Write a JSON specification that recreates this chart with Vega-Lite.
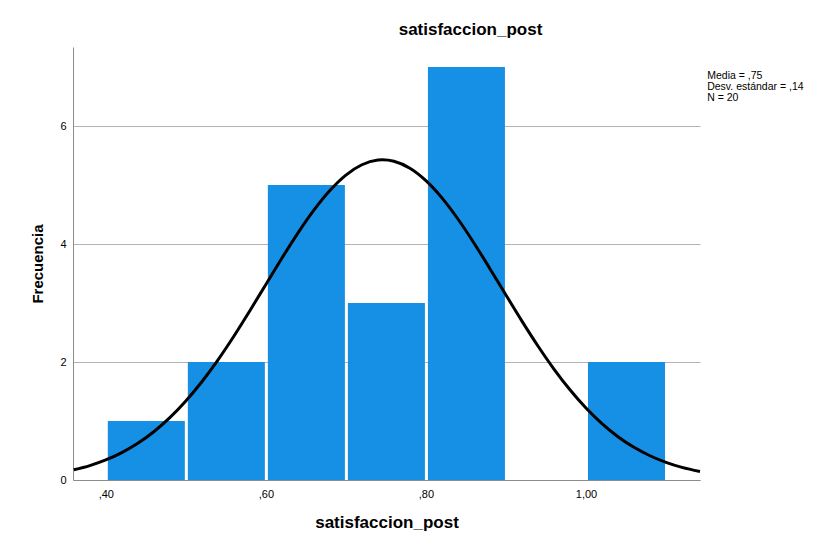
{
  "$schema": "https://vega.github.io/schema/vega-lite/v6.json",
  "width": 627,
  "height": 433,
  "autosize": {"type": "none"},
  "padding": {"left": 73, "top": 47, "right": 117, "bottom": 66},
  "background": "white",
  "title": {"text": "satisfaccion_post", "font": "Liberation Sans", "fontSize": 17, "fontWeight": "bold", "color": "#000000", "offset": 8, "dx": 84},
  "config": {"view": {"stroke": null}, "font": "Liberation Sans"},
  "datasets": {
    "bins": [
      {"desde": 0.4, "hasta": 0.5, "frecuencia": 1},
      {"desde": 0.5, "hasta": 0.6, "frecuencia": 2},
      {"desde": 0.6, "hasta": 0.7, "frecuencia": 5},
      {"desde": 0.7, "hasta": 0.8, "frecuencia": 3},
      {"desde": 0.8, "hasta": 0.9, "frecuencia": 7},
      {"desde": 0.9, "hasta": 1.0, "frecuencia": 0},
      {"desde": 1.0, "hasta": 1.1, "frecuencia": 2}
    ],
    "curva": [
      {"x": 0.36, "y": 0.1726}, {"x": 0.38, "y": 0.2445}, {"x": 0.40, "y": 0.3401},
      {"x": 0.42, "y": 0.4644}, {"x": 0.44, "y": 0.6221}, {"x": 0.46, "y": 0.8176},
      {"x": 0.48, "y": 1.0563}, {"x": 0.50, "y": 1.3385}, {"x": 0.52, "y": 1.6648},
      {"x": 0.54, "y": 2.0333}, {"x": 0.56, "y": 2.4377}, {"x": 0.58, "y": 2.8693},
      {"x": 0.60, "y": 3.3149}, {"x": 0.62, "y": 3.7594}, {"x": 0.64, "y": 4.1855},
      {"x": 0.66, "y": 4.5742}, {"x": 0.68, "y": 4.9075}, {"x": 0.70, "y": 5.1686},
      {"x": 0.72, "y": 5.3439}, {"x": 0.74, "y": 5.4235}, {"x": 0.746, "y": 5.428},
      {"x": 0.76, "y": 5.4034}, {"x": 0.78, "y": 5.2847}, {"x": 0.80, "y": 5.0741},
      {"x": 0.82, "y": 4.7821}, {"x": 0.84, "y": 4.4244}, {"x": 0.86, "y": 4.0184},
      {"x": 0.88, "y": 3.5825}, {"x": 0.90, "y": 3.1358}, {"x": 0.92, "y": 2.6939},
      {"x": 0.94, "y": 2.2722}, {"x": 0.96, "y": 1.8814}, {"x": 0.98, "y": 1.5291},
      {"x": 1.00, "y": 1.2202}, {"x": 1.02, "y": 0.9559}, {"x": 1.04, "y": 0.7345},
      {"x": 1.06, "y": 0.5542}, {"x": 1.08, "y": 0.4109}, {"x": 1.10, "y": 0.2988},
      {"x": 1.12, "y": 0.2133}, {"x": 1.1425, "y": 0.1440}
    ]
  },
  "layer": [
    {
      "data": {"name": "bins"},
      "mark": {"type": "bar", "color": "#1690E5", "binSpacing": 3},
      "encoding": {
        "x": {
          "field": "desde", "type": "quantitative", "bin": {"binned": true, "step": 0.1},
          "scale": {"domain": [0.359, 1.1425], "nice": false, "zero": false},
          "axis": {
            "title": "satisfaccion_post", "titleFontSize": 17, "titleFontWeight": "bold", "titleColor": "#000000",
            "titlePadding": 15, "values": [0.4, 0.6, 0.8, 1.0],
            "labelExpr": "datum.value < 1 ? replace(format(datum.value, '.2f'), '0.', ',') : replace(format(datum.value, '.2f'), '.', ',')",
            "ticks": false, "labelPadding": 8, "labelFontSize": 11, "labelColor": "#000000",
            "domainColor": "#8c8c8c", "grid": false, "labelFlush": false
          }
        },
        "x2": {"field": "hasta"},
        "y": {
          "field": "frecuencia", "type": "quantitative",
          "scale": {"domain": [0, 7.34], "nice": false},
          "axis": {
            "title": "Frecuencia", "titleFontSize": 15, "titleFontWeight": "bold", "titleColor": "#000000",
            "titlePadding": 14, "values": [0, 2, 4, 6], "format": "d", "ticks": false, "labelPadding": 7,
            "labelFontSize": 11, "labelColor": "#000000", "gridColor": "#b4b4b4", "domainColor": "#8c8c8c"
          }
        }
      }
    },
    {
      "data": {"name": "curva"},
      "mark": {"type": "line", "color": "#000000", "strokeWidth": 3, "interpolate": "monotone"},
      "encoding": {
        "x": {"field": "x", "type": "quantitative"},
        "y": {"field": "y", "type": "quantitative"}
      }
    },
    {
      "data": {"values": [{"stat": "resumen"}]},
      "mark": {"type": "text", "align": "left", "baseline": "top", "fontSize": 10.5, "lineHeight": 11, "color": "#000000", "font": "Liberation Sans"},
      "encoding": {
        "x": {"datum": 1.1515, "type": "quantitative"},
        "y": {"datum": 6.93, "type": "quantitative"},
        "text": {"value": ["Media = ,75", "Desv. estándar = ,14", "N = 20"]}
      }
    }
  ]
}
